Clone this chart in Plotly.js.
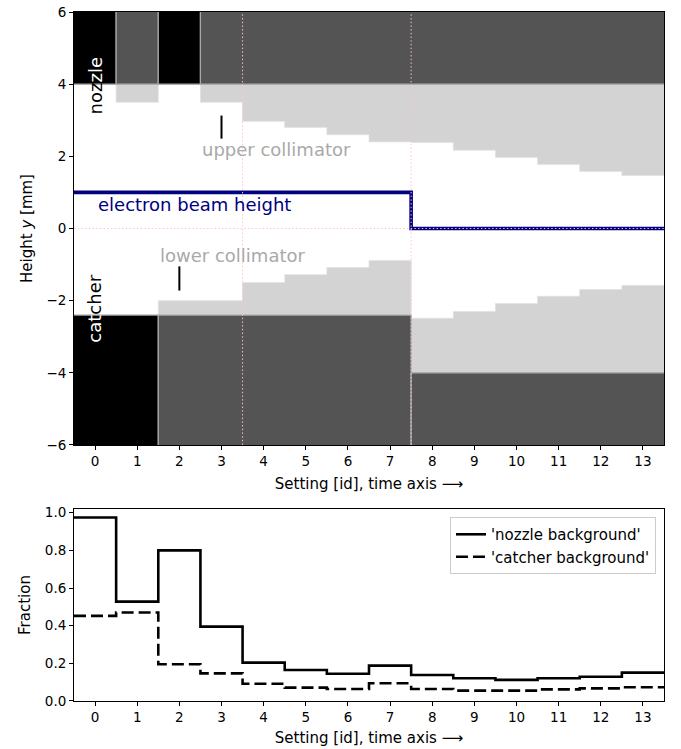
<!DOCTYPE html>
<html><head><meta charset="utf-8">
<script src="https://cdn.plot.ly/plotly-3.0.1.min.js"></script>
<style>html,body{margin:0;padding:0;background:#fff}</style>
</head><body><div id="chart" style="width:681px;height:749px"></div>
<script>
// ---- data ----
const settings = [0,1,2,3,4,5,6,7,8,9,10,11,12,13];
const nozzleExposed  = [1,0,1,0,0,0,0,0,0,0,0,0,0,0];
const catcherExposed = [1,1,0,0,0,0,0,0,0,0,0,0,0,0];
const nozzleEdge  = [4,4,4,4,4,4,4,4,4,4,4,4,4,4];
const catcherEdge = [-2.4,-2.4,-2.4,-2.4,-2.4,-2.4,-2.4,-2.4,-4.0,-4.0,-4.0,-4.0,-4.0,-4.0];
const upperCollimator = [4.0,3.5,4.0,3.5,2.97,2.8,2.6,2.4,2.38,2.17,1.97,1.77,1.58,1.47];
const lowerCollimator = [-2.4,-2.4,-2.0,-2.0,-1.5,-1.28,-1.08,-0.89,-2.49,-2.3,-2.08,-1.88,-1.69,-1.58];
const beamHeight = [1,1,1,1,1,1,1,1,0,0,0,0,0,0];
const phaseBoundaries = [3.5, 7.5];
const upperPointerX = [3, 3], upperPointerY = [2.49, 3.13];
const lowerPointerX = [2, 2], lowerPointerY = [-1.72, -1.05];
const nozzleBackground  = [0.975,0.528,0.80,0.395,0.204,0.165,0.145,0.188,0.138,0.121,0.112,0.121,0.129,0.151];
const catcherBackground = [0.452,0.47,0.195,0.147,0.092,0.071,0.064,0.094,0.064,0.055,0.055,0.062,0.067,0.073];
const yTicksTop = [-6,-4,-2,0,2,4,6];
const yTicksBottom = [0,0.2,0.4,0.6,0.8,1.0];
const yRangeTop = [-6, 6];
const yRangeBottom = [0, 1.02];

// ---- helpers ----
const FONT = 'DejaVu Sans';
const edges = settings.map(s => s - 0.5).concat(settings[settings.length-1] + 0.5);
const xRange = [edges[0], edges[edges.length-1]];
const step = arr => arr.concat(arr[arr.length-1]);
const DARK = '#545454', LIGHT = '#d3d3d3', EDGE = '#a9a9a9';
const DOT = '1.4px,2.3px';

function blocks(exposed, edge, isTop) {
  const out = [];
  let i = 0;
  while (i < settings.length) {
    let j = i;
    while (j + 1 < settings.length && exposed[j+1] === exposed[i] && edge[j+1] === edge[i]) j++;
    let x0 = edges[i], x1 = edges[j+1];
    if (i === 0) x0 -= 1;
    if (j === settings.length - 1) x1 += 1;
    const far = isTop ? yRangeTop[1] + 1 : yRangeTop[0] - 1;
    out.push({
      type: 'scatter', mode: 'lines', xaxis: 'x', yaxis: 'y', showlegend: false, hoverinfo: 'skip',
      x: [x0, x1, x1, x0, x0], y: [edge[i], edge[i], far, far, edge[i]],
      fill: 'toself', fillcolor: exposed[i] ? '#000000' : DARK,
      line: {color: EDGE, width: 1.2}
    });
    i = j + 1;
  }
  return out;
}

const traces = [];
// upper collimator
traces.push({type:'scatter', mode:'lines', x: edges, y: step(nozzleEdge), line:{shape:'hv', width:0, color:LIGHT}, showlegend:false, hoverinfo:'skip'});
traces.push({type:'scatter', mode:'lines', x: edges, y: step(upperCollimator), line:{shape:'hv', width:0.8, color:'#e2e2e2'}, fill:'tonexty', fillcolor:LIGHT, showlegend:false, hoverinfo:'skip'});
// lower collimator
traces.push({type:'scatter', mode:'lines', x: edges, y: step(catcherEdge), line:{shape:'hv', width:0, color:LIGHT}, showlegend:false, hoverinfo:'skip'});
traces.push({type:'scatter', mode:'lines', x: edges, y: step(lowerCollimator), line:{shape:'hv', width:0.8, color:'#e2e2e2'}, fill:'tonexty', fillcolor:LIGHT, showlegend:false, hoverinfo:'skip'});
// nozzle and catcher blocks
blocks(nozzleExposed, nozzleEdge, true).forEach(t => traces.push(t));
blocks(catcherExposed, catcherEdge, false).forEach(t => traces.push(t));
// beam
traces.push({type:'scatter', mode:'lines', x: edges, y: step(beamHeight), line:{shape:'hv', width:3.6, color:'#000080'}, showlegend:false, hoverinfo:'skip'});
// dotted guides
phaseBoundaries.forEach(b => traces.push({type:'scatter', mode:'lines', x:[b,b], y:yRangeTop, line:{color:'pink', width:1, dash:DOT}, showlegend:false, hoverinfo:'skip'}));
traces.push({type:'scatter', mode:'lines', x:xRange, y:[0,0], line:{color:'pink', width:1, dash:DOT}, showlegend:false, hoverinfo:'skip'});
// pointers
traces.push({type:'scatter', mode:'lines', x:upperPointerX, y:upperPointerY, line:{color:'black', width:2}, showlegend:false, hoverinfo:'skip'});
traces.push({type:'scatter', mode:'lines', x:lowerPointerX, y:lowerPointerY, line:{color:'black', width:2}, showlegend:false, hoverinfo:'skip'});

// bottom panel
traces.push({type:'scatter', mode:'lines', xaxis:'x2', yaxis:'y2', x: edges, y: step(nozzleBackground), name:"'nozzle background'", line:{shape:'hv', width:2.6, color:'black'}});
traces.push({type:'scatter', mode:'lines', xaxis:'x2', yaxis:'y2', x: edges, y: step(catcherBackground), name:"'catcher background'", line:{shape:'hv', width:2.6, color:'black', dash:'12px,5px'}});

const axisCommon = {
  showline: true, mirror: true, linecolor: 'black', linewidth: 1,
  ticks: 'outside', ticklen: 4, tickwidth: 1, tickcolor: 'black',
  showgrid: false, zeroline: false,
  tickfont: {family: FONT, size: 13.5, color: 'black'}
};
const TITLE_SIZE = 15;

const layout = {
  width: 681, height: 749,
  margin: {l: 74, r: 17, t: 12, b: 48},
  paper_bgcolor: 'white', plot_bgcolor: 'white',
  font: {family: FONT, color: 'black'},
  xaxis: Object.assign({}, axisCommon, {domain:[0,1], anchor:'y', range: xRange, tickvals: settings,
    title: {text: 'Setting [id], time axis ⟶', font:{family:FONT, size:TITLE_SIZE}, standoff: 10}}),
  yaxis: Object.assign({}, axisCommon, {domain:[0.3716,1], anchor:'x', range: yRangeTop, tickvals: yTicksTop,
    title: {text: 'Height <i>y</i> [mm]', font:{family:FONT, size:TITLE_SIZE}, standoff: 10}}),
  xaxis2: Object.assign({}, axisCommon, {domain:[0,1], anchor:'y2', range: xRange, tickvals: settings,
    title: {text: 'Setting [id], time axis ⟶', font:{family:FONT, size:TITLE_SIZE}, standoff: 8}}),
  yaxis2: Object.assign({}, axisCommon, {domain:[0,0.2787], anchor:'x2', range: yRangeBottom, tickvals: yTicksBottom, tickformat: '.1f',
    title: {text: 'Fraction', font:{family:FONT, size:TITLE_SIZE}, standoff: 10}}),
  showlegend: true,
  legend: {x: 0.9864, xanchor: 'right', y: 0.267, yanchor: 'top', bgcolor: 'white', traceorder: 'normal',
    bordercolor: '#cccccc', borderwidth: 1, font: {family: FONT, size: 15}},
  annotations: [
    {xref:'x', yref:'y', x: 0, y: 3.94, text: '<span style="color:black">noz</span><span style="color:white">zle</span>',
     textangle: -90, showarrow: false, font: {family: FONT, size: 18}},
    {xref:'x', yref:'y', x: 0, y: -2.22, text: '<span style="color:white">cat</span><span style="color:black">cher</span>',
     textangle: -90, showarrow: false, font: {family: FONT, size: 18}},
    {xref:'x', yref:'y', x: 0.03, y: 0.665, text: 'electron beam height', xanchor: 'left', yanchor: 'middle',
     showarrow: false, font: {family: FONT, size: 18, color: '#000080'}},
    {xref:'x', yref:'y', x: 2.5, y: 2.19, text: 'upper collimator', xanchor: 'left', yanchor: 'middle',
     showarrow: false, font: {family: FONT, size: 18, color: '#a9a9a9'}},
    {xref:'x', yref:'y', x: 1.5, y: -0.75, text: 'lower collimator', xanchor: 'left', yanchor: 'middle',
     showarrow: false, font: {family: FONT, size: 18, color: '#a9a9a9'}}
  ]
};

Plotly.newPlot('chart', traces, layout, {displayModeBar: false, staticPlot: true});
</script>
</body></html>
